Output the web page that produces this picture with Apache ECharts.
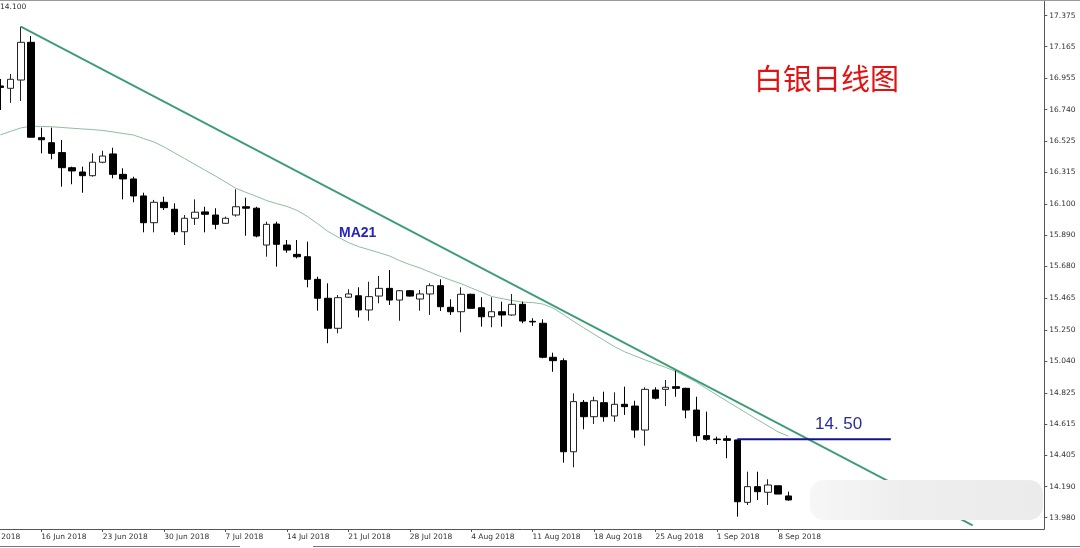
<!DOCTYPE html>
<html>
<head>
<meta charset="utf-8">
<script src="https://cdn.jsdelivr.net/npm/echarts@6/dist/echarts.min.js"></script>
<style>
html,body{margin:0;padding:0;background:#fff;}
#chart{width:1080px;height:548px;}
</style>
</head>
<body>
<div id="chart"></div>
<script>
// Daily bars (Mon-Sat), including future empty slots to the right
const categories = [
'12 Jun 2018','13 Jun 2018','14 Jun 2018','15 Jun 2018','16 Jun 2018',
'18 Jun 2018','19 Jun 2018','20 Jun 2018','21 Jun 2018','22 Jun 2018','23 Jun 2018',
'25 Jun 2018','26 Jun 2018','27 Jun 2018','28 Jun 2018','29 Jun 2018','30 Jun 2018',
'2 Jul 2018','3 Jul 2018','4 Jul 2018','5 Jul 2018','6 Jul 2018','7 Jul 2018',
'9 Jul 2018','10 Jul 2018','11 Jul 2018','12 Jul 2018','13 Jul 2018','14 Jul 2018',
'16 Jul 2018','17 Jul 2018','18 Jul 2018','19 Jul 2018','20 Jul 2018','21 Jul 2018',
'23 Jul 2018','24 Jul 2018','25 Jul 2018','26 Jul 2018','27 Jul 2018','28 Jul 2018',
'30 Jul 2018','31 Jul 2018','1 Aug 2018','2 Aug 2018','3 Aug 2018','4 Aug 2018',
'6 Aug 2018','7 Aug 2018','8 Aug 2018','9 Aug 2018','10 Aug 2018','11 Aug 2018',
'13 Aug 2018','14 Aug 2018','15 Aug 2018','16 Aug 2018','17 Aug 2018','18 Aug 2018',
'20 Aug 2018','21 Aug 2018','22 Aug 2018','23 Aug 2018','24 Aug 2018','25 Aug 2018',
'27 Aug 2018','28 Aug 2018','29 Aug 2018','30 Aug 2018','31 Aug 2018','1 Sep 2018',
'3 Sep 2018','4 Sep 2018','5 Sep 2018','6 Sep 2018','7 Sep 2018','8 Sep 2018',
'10 Sep 2018','11 Sep 2018','12 Sep 2018','13 Sep 2018','14 Sep 2018','15 Sep 2018',
'17 Sep 2018','18 Sep 2018','19 Sep 2018','20 Sep 2018','21 Sep 2018','22 Sep 2018',
'24 Sep 2018','25 Sep 2018','26 Sep 2018','27 Sep 2018','28 Sep 2018','29 Sep 2018',
'1 Oct 2018','2 Oct 2018','3 Oct 2018','4 Oct 2018','5 Oct 2018','6 Oct 2018',
'8 Oct 2018','9 Oct 2018'
];

// x-axis tick labels shown
const xTickLabels = ['16 Jun 2018','23 Jun 2018','30 Jun 2018','7 Jul 2018','14 Jul 2018',
  '21 Jul 2018','28 Jul 2018','4 Aug 2018','11 Aug 2018','18 Aug 2018','25 Aug 2018','1 Sep 2018','8 Sep 2018'];
// previous week label, cut by the left edge
const cutLabel = '9 Jun 2018';

// y-axis tick labels
const yTickLabels = [17.375,17.165,16.955,16.740,16.525,16.315,16.100,15.890,15.680,15.465,15.250,15.040,14.825,14.615,14.405,14.190,13.980];

// candles: [open, high, low, close], from 12 Jun 2018 to 10 Sep 2018
const candles = [
[16.900,16.947,16.737,16.890],[16.884,16.981,16.785,16.945],[16.940,17.301,16.798,17.195],[17.195,17.238,16.553,16.553],
[16.550,16.618,16.444,16.536],[16.516,16.618,16.404,16.444],[16.449,16.534,16.219,16.347],[16.347,16.354,16.235,16.325],
[16.318,16.354,16.178,16.293],[16.293,16.444,16.286,16.384],[16.384,16.462,16.377,16.426],[16.440,16.482,16.275,16.302],
[16.302,16.343,16.133,16.271],[16.271,16.286,16.113,16.156],[16.156,16.178,15.910,15.975],[15.975,16.129,15.910,16.113],
[16.113,16.151,16.061,16.077],[16.066,16.106,15.892,15.914],[15.914,16.027,15.824,16.005],[16.005,16.133,15.960,16.046],
[16.048,16.083,15.910,16.032],[16.027,16.073,15.931,15.964],[15.971,16.016,15.966,16.005],[16.027,16.201,16.016,16.083],
[16.083,16.144,15.887,16.073],[16.073,16.083,15.876,15.885],[15.824,15.982,15.745,15.964],[15.966,15.982,15.678,15.829],
[15.824,15.858,15.772,15.790],[15.761,15.858,15.734,15.745],[15.745,15.847,15.538,15.592],[15.592,15.610,15.380,15.464],
[15.464,15.565,15.160,15.261],[15.261,15.486,15.227,15.468],[15.471,15.525,15.466,15.493],[15.481,15.538,15.335,15.385],
[15.385,15.576,15.312,15.475],[15.479,15.615,15.430,15.531],[15.531,15.655,15.419,15.452],[15.452,15.520,15.312,15.515],
[15.515,15.520,15.475,15.479],[15.459,15.520,15.380,15.493],[15.493,15.565,15.351,15.549],[15.549,15.592,15.378,15.407],
[15.403,15.457,15.351,15.373],[15.373,15.538,15.234,15.491],[15.491,15.495,15.393,15.396],[15.400,15.471,15.272,15.339],
[15.339,15.471,15.268,15.373],[15.373,15.441,15.272,15.351],[15.351,15.493,15.346,15.423],[15.423,15.441,15.295,15.310],
[15.308,15.329,15.277,15.304],[15.295,15.322,15.058,15.065],[15.065,15.096,14.967,15.042],[15.042,15.058,14.352,14.426],
[14.426,14.821,14.321,14.765],[14.760,14.776,14.578,14.663],[14.663,14.798,14.614,14.771],[14.758,14.832,14.629,14.663],
[14.668,14.828,14.629,14.747],[14.747,14.866,14.675,14.731],[14.735,14.771,14.521,14.573],[14.573,14.862,14.467,14.848],
[14.844,14.862,14.780,14.788],[14.848,14.911,14.735,14.862],[14.866,14.979,14.798,14.855],[14.855,14.859,14.652,14.708],
[14.708,14.798,14.494,14.535],[14.535,14.697,14.501,14.510],[14.512,14.528,14.478,14.508],[14.514,14.535,14.382,14.503],
[14.506,14.506,13.987,14.088],[14.084,14.291,14.066,14.190],[14.190,14.291,14.100,14.156],[14.152,14.240,14.066,14.201],
[14.196,14.196,14.140,14.140],[14.127,14.156,14.095,14.100]
];

// MA21 values, same bars
const ma21 = [
16.569,16.593,16.616,16.628,16.626,16.624,16.619,16.614,16.609,16.605,16.599,16.589,16.578,16.568,16.544,16.521,
16.487,16.448,16.409,16.369,16.330,16.291,16.250,16.208,16.180,16.154,16.125,16.104,16.085,16.058,16.017,15.968,
15.916,15.877,15.841,15.813,15.793,15.772,15.751,15.719,15.692,15.669,15.640,15.612,15.587,15.563,15.534,15.506,
15.476,15.462,15.449,15.438,15.435,15.425,15.398,15.354,15.308,15.264,15.221,15.179,15.137,15.102,15.074,15.047,
15.021,14.997,14.969,14.934,14.897,14.853,14.810,14.768,14.726,14.684,14.642,14.601,14.560,14.531
];

// trendline anchors
const trendStart = ['14 Jun 2018', 17.301];
const trendEnd = ['1 Oct 2018', 13.928];
// 14.50 resistance level
const levelLine = [['4 Sep 2018', 14.51], ['21 Sep 2018', 14.51]];
const lastPrice = 14.100;

const candleData = candles.map(([o, h, l, c]) => [o, c, l, h]);

const axisFont = 'DejaVu Sans';
const chart = echarts.init(document.getElementById('chart'), null, {renderer: 'canvas'});
const showX = (idx, val) => xTickLabels.indexOf(val) >= 0;

chart.setOption({
  animation: false,
  backgroundColor: '#ffffff',
  grid: {left: 0.4, right: 35.7, top: 1.5, bottom: 19, containLabel: false},
  xAxis: {
    type: 'category',
    data: categories,
    boundaryGap: false,
    axisLine: {show: true, lineStyle: {color: '#555', width: 1}},
    axisTick: {show: true, interval: showX, length: 3, lineStyle: {color: '#555'}},
    axisLabel: {interval: showX, align: 'left', margin: 4, fontSize: 7.5, fontFamily: axisFont, color: '#333'},
    splitLine: {show: false}
  },
  yAxis: {
    type: 'value',
    position: 'right',
    min: 13.9036,
    max: 17.471,
    scale: true,
    axisLine: {show: true, lineStyle: {color: '#555', width: 1}},
    axisTick: {show: true, length: 3, customValues: yTickLabels, lineStyle: {color: '#555'}},
    axisLabel: {customValues: yTickLabels, margin: 5, fontSize: 7.5, fontFamily: axisFont, color: '#333',
      formatter: v => v.toFixed(3)},
    splitLine: {show: false}
  },
  series: [
    {
      type: 'line',
      name: 'MA21',
      data: ma21,
      symbol: 'none',
      lineStyle: {color: '#8cbf9c', width: 1},
      z: 1
    },
    {
      type: 'candlestick',
      data: candleData,
      barWidth: 7,
      itemStyle: {color: '#ffffff', color0: '#000000', borderColor: '#222', borderColor0: '#000', borderWidth: 1},
      z: 3,
      markLine: {
        silent: true,
        symbol: 'none',
        data: [{yAxis: lastPrice}],
        lineStyle: {opacity: 0},
        label: {show: true, position: 'end', distance: 2, formatter: lastPrice.toFixed(3),
          backgroundColor: '#000', color: '#fff', fontSize: 7.5, fontFamily: axisFont, padding: [1, 2]}
      }
    },
    {
      type: 'line',
      name: 'trend',
      data: [trendStart, trendEnd],
      symbol: 'none',
      lineStyle: {color: '#3c9c78', width: 1.8},
      z: 4
    },
    {
      type: 'line',
      name: 'level',
      data: levelLine,
      symbol: 'none',
      lineStyle: {color: '#141488', width: 2},
      z: 5
    }
  ],
  graphic: [
    {type: 'line', shape: {x1: 0, y1: 0.5, x2: 1080, y2: 0.5}, style: {stroke: '#999', lineWidth: 1}},
    {type: 'line', shape: {x1: 0, y1: 546.5, x2: 240, y2: 546.5}, style: {stroke: '#777', lineWidth: 1}},
    {type: 'line', shape: {x1: 313, y1: 546.5, x2: 1080, y2: 546.5}, style: {stroke: '#777', lineWidth: 1}},
    {type: 'text', x: -20, y: 533, style: {text: cutLabel, fontSize: 7.5, fontFamily: axisFont, fill: '#333'}},
    {type: 'text', left: 0, top: 3, style: {text: '14.100', fontSize: 7.5, fontFamily: axisFont, fill: '#333'}},
    {type: 'text', left: 754, top: 64, style: {text: '白银日线图', fontSize: 29, fontFamily: 'Noto Sans CJK SC', fill: '#e01212'}},
    {type: 'text', left: 339, top: 226, style: {text: 'MA21', fontSize: 14, fontWeight: 'bold', fontFamily: 'Liberation Sans', fill: '#2525bd'}},
    {type: 'text', left: 815, top: 416, style: {text: '14. 50', fontSize: 17, fontFamily: 'Liberation Sans', fill: '#2a2a9c'}},
    {type: 'rect', z: 100, shape: {x: 810, y: 480, width: 233, height: 40, r: 14},
      style: {fill: new echarts.graphic.LinearGradient(0, 0, 1, 0, [
        {offset: 0, color: '#f7f7f7'}, {offset: 0.4, color: '#eeeeee'}, {offset: 1, color: '#ebebeb'}])}}
  ]
});
</script>
</body>
</html>
